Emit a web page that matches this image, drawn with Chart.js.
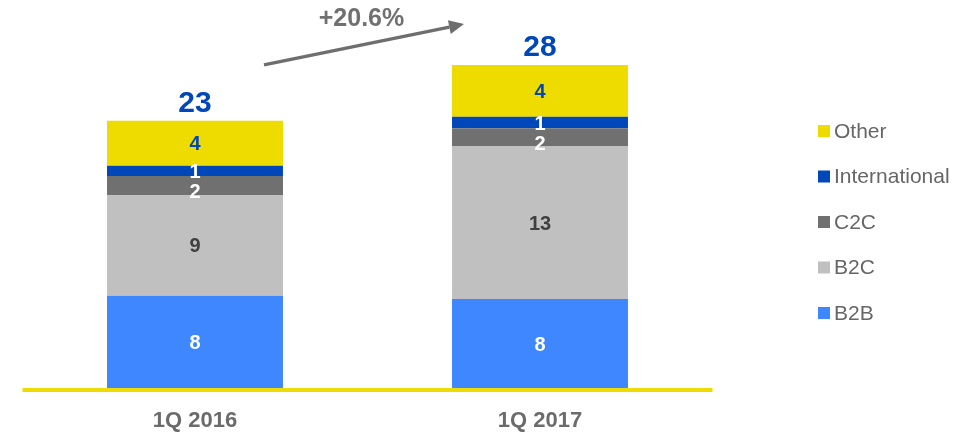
<!DOCTYPE html>
<html>
<head>
<meta charset="utf-8">
<script src="https://cdn.jsdelivr.net/npm/chart.js@4"></script>
<style>
  html, body { margin: 0; padding: 0; background: #ffffff; }
  #wrap { width: 977px; height: 434px; position: relative; }
</style>
</head>
<body>
<div id="wrap"><canvas id="c"></canvas></div>
<script>
// ---- data ----
const categories = ['1Q 2016', '1Q 2017'];
const seriesNames = ['B2B', 'B2C', 'C2C', 'International', 'Other'];
const b2b = [8.0, 7.71];
const b2c = [8.73, 13.26];
const c2c = [1.65, 1.53];
const international = [0.87, 1.0];
const other = [3.9, 4.48];
const growthLabel = '+20.6%';
const yMax = 30;

// ---- styles ----
const FONT = '"Liberation Sans", Arial, Helvetica, sans-serif';
const seriesColors = ['#3E87FF', '#C0C0C0', '#707070', '#0047BA', '#EEDB00'];
const labelColors = ['#FFFFFF', '#404040', '#FFFFFF', '#FFFFFF', '#0047BA'];
const seriesValues = [b2b, b2c, c2c, international, other];

const overlay = {
  id: 'overlay',
  afterDatasetsDraw(chart) {
    const ctx = chart.ctx, ca = chart.chartArea;
    ctx.save();
    // yellow baseline
    ctx.fillStyle = '#EEDC00';
    ctx.fillRect(ca.left, ca.bottom, ca.right - ca.left, 4);

    // segment labels (top segment first, pushing labels down to avoid overlap)
    ctx.textAlign = 'center';
    ctx.textBaseline = 'middle';
    ctx.font = 'bold 20px ' + FONT;
    const n = chart.data.datasets.length;
    categories.forEach((c, i) => {
      let prev = -Infinity;
      for (let di = n - 1; di >= 0; di--) {
        const ds = chart.data.datasets[di];
        const bar = chart.getDatasetMeta(di).data[i];
        let yc = (bar.y + bar.base) / 2 + 1.5;
        yc = Math.max(yc, prev + 20);
        prev = yc;
        ctx.fillStyle = labelColors[di];
        ctx.fillText(String(Math.round(ds.data[i])), bar.x, yc);
      }
    });

    // totals
    const topMeta = chart.getDatasetMeta(n - 1);
    ctx.font = 'bold 30px ' + FONT;
    ctx.fillStyle = '#0047BA';
    ctx.textBaseline = 'alphabetic';
    const tops = [];
    categories.forEach((c, i) => {
      let sum = 0;
      chart.data.datasets.forEach(ds => { sum += ds.data[i]; });
      const bar = topMeta.data[i];
      tops.push(bar);
      ctx.fillText(String(Math.round(sum)), bar.x, bar.y - 9);
    });

    // growth arrow
    const b1 = tops[0], b2 = tops[1];
    const x1 = b1.x + b1.width / 2 - 19, y1 = b1.y - 56;
    const x2 = b2.x - b2.width / 2 + 12, y2 = b2.y - 41;
    const ang = Math.atan2(y2 - y1, x2 - x1);
    const headLen = 15, headHalf = 7;
    const bx = x2 - headLen * Math.cos(ang), by = y2 - headLen * Math.sin(ang);
    ctx.strokeStyle = '#6E6E6E';
    ctx.fillStyle = '#6E6E6E';
    ctx.lineWidth = 3.5;
    ctx.beginPath();
    ctx.moveTo(x1, y1);
    ctx.lineTo(bx, by);
    ctx.stroke();
    ctx.beginPath();
    ctx.moveTo(x2, y2);
    ctx.lineTo(bx + headHalf * Math.sin(ang), by - headHalf * Math.cos(ang));
    ctx.lineTo(bx - headHalf * Math.sin(ang), by + headHalf * Math.cos(ang));
    ctx.closePath();
    ctx.fill();

    ctx.font = 'bold 25px ' + FONT;
    ctx.fillStyle = '#707070';
    ctx.textAlign = 'center';
    ctx.textBaseline = 'middle';
    ctx.fillText(growthLabel, (x1 + x2) / 2 - 2.5, (y1 + y2) / 2 - 25);

    // legend (reverse order, top to bottom)
    ctx.font = '21px ' + FONT;
    ctx.textAlign = 'left';
    ctx.textBaseline = 'middle';
    const items = chart.data.datasets.map(ds => ({ label: ds.label, color: ds.backgroundColor })).reverse();
    const lx = ca.right + 105.5;
    items.forEach((it, k) => {
      const cy = 131 + k * 45.5;
      ctx.fillStyle = it.color;
      ctx.fillRect(lx, cy - 6, 12, 12);
      ctx.fillStyle = '#666666';
      ctx.fillText(it.label, lx + 16, cy + 1);
    });
    ctx.restore();
  }
};

const datasets = seriesNames.map((name, i) => ({
  label: name,
  data: seriesValues[i],
  backgroundColor: seriesColors[i],
  borderWidth: 0,
  barPercentage: 0.51,
  categoryPercentage: 1.0
}));

new Chart(document.getElementById('c'), {
  type: 'bar',
  data: { labels: categories, datasets: datasets },
  options: {
    responsive: true,
    maintainAspectRatio: false,
    animation: false,
    events: [],
    layout: { padding: { left: 22.5, right: 264.5, top: 41.8, bottom: 0 } },
    plugins: {
      legend: { display: false },
      tooltip: { enabled: false }
    },
    scales: {
      x: {
        stacked: true,
        grid: { display: false, drawTicks: false },
        border: { display: false },
        ticks: {
          color: '#6B6B6B',
          font: { family: FONT, size: 22, weight: 'bold' },
          padding: 20
        },
        afterFit(scale) { scale.height = 46; }
      },
      y: {
        stacked: true,
        display: false,
        min: 0,
        max: yMax
      }
    }
  },
  plugins: [overlay]
});
</script>
</body>
</html>
